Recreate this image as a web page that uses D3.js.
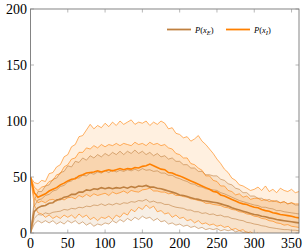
<!DOCTYPE html>
<html>
<head>
<meta charset="utf-8">
<script src="https://cdn.jsdelivr.net/npm/d3@7"></script>
<style>
  html, body { margin: 0; padding: 0; background: #fff; }
  svg { display: block; }
</style>
</head>
<body>
<div id="chart"></div>
<script>
// sample positions (time steps)
const steps = [0,5,10,15,20,25,30,35,40,45,50,55,60,65,70,75,80,85,90,95,100,105,110,115,120,125,130,135,140,145,150,155,160,165,170,175,180,185,190,195,200,205,210,215,220,225,230,235,240,245,250,255,260,265,270,275,280,285,290,295,300,305,310,315,320,325,330,335,340,345,350,355,360];

// P(x_I): mean and the two bands around it
const iMean = [50,36,32,33.5,35,37.5,39,40.5,43,44.5, 46.5,48,48.5,51,52,53.5,54,54.5,55.5,54.5, 55.5,56.5,55.5,56.5,57.5,56.5,57.5,57,58.5,58, 59.5,60,61.5,60,58.5,57,56.5,54,53.5,52, 51,49.5,48,46.5,45,43.5,42,40.5,39,37, 36.5,34,33,31.5,30,28.5,27,26,25.5,24, 23,22.5,21,20,19.5,18,17.5,16.5,16,15.5, 15,14,13.5];
const iHi2 = [50,45,44,47,46,53,54,59,61,68, 70,77,79,86,87,92,97,93,96,94, 98,95,99,96,100,97,99,101,97,99, 98,100,96,99,97,100,98,93,94,89, 88,85,86,82,84,87,82,79,75,71, 66,62,57,54,49,47,43,42,40,38, 39,41,38,42,37,39,36,40,38,37, 39,36,37];
const iHi1 = [50,41,38,41,42,46,47,52,53,59, 61,66,67,72,72,76,75,78,76,79, 77,79,78,80,78,80,79,78,81,79, 80,78,81,79,80,78,79,76,75,71, 70,67,67,62,61,58,56,51,51,47, 46,42,42,38,37,34,35,32,33,30, 31,31,29,30,28,29,28,27,28,26, 27,26,26];
const iLo1 = [50,31,27,28.5,27,29.5,30,28.5,31,29.5, 31.5,32,30.5,33.5,32,34.5,32.5,35,33.5,34.5, 35.5,33.5,36.5,35,36,37.5,35.5,38,37,36.5, 38.5,39,40,37.5,37.5,36.5,36.5,35,35.5,33.5, 33.5,32.5,32,30.5,30,29,28.5,26.5,26.5,25.5, 25,24.5,23,22.5,21,20.5,19,18.5,17,16.5, 15,14.5,13,12.5,11,10.5,9,8.5,7,7.5, 6,5.5,5];
const iLo2 = [50,25,18,17,14,16,13,15,13,16, 14,16,13,17,14,16,12,14,11,14, 13,15,12,16,14,18,16,21,19,23, 21,25,22,24,19,20,17,18,14,16, 13,14,11,12,9,11,8,9,7,8, 6,7,5,6,3,4,2,3,0,1, -1,0,-3,-2,-4,-3,-5,-4,-6,-6, -7,-7,-8];

// P(x_E): mean and the two bands around it
const eMean = [0,19,22.5,24,24.5,26.5,27,29.5,30,32, 32.5,34.5,34.5,36.5,36.5,38.5,38,39.5,39,40.5, 39.5,40.5,39.5,40.5,40,41,40,41.5,40.5,42, 41.5,42.5,41,41,40,39.5,38.5,37.5,36.5,35.5, 34,33.5,32.5,31.5,30.5,30,29,28.5,28,27.5, 27,26,25,24,22.5,21.5,20.5,19.5,18.5,17.5, 16.5,16,15,14.5,13.5,13,12,11.5,11,10.5, 10,9.5,9];
const eHi2 = [0,29,37,37,42,43,48,49,54,55, 60,59,64,63,67,65,69,67,70,68, 71,69,72,70,73,70,73,71,74,71, 73,70,72,69,71,68,69,66,67,64, 64,61,61,58,58,55,55,52,52,51, 51,48,47,44,43,40,39,36,36,33, 33,31,31,29,30,28,29,27,28,26, 27,25,25];
const eHi1 = [0,24,29.5,30.5,33.5,34.5,37.5,38.5,41.5,42.5, 45.5,46.5,49.5,49,51.5,51,53.5,52.5,54.5,53.5, 55.5,54,56,54.5,56,55,56.5,55.5,57,55.5, 57.5,56,56.5,55,55.5,53.5,53.5,51.5,51.5,49.5, 48.5,47,46,44,43.5,41.5,41,39.5,39,38.5, 38,36,35,33.5,32,30.5,29,28,27,26, 25,24.5,23,23,22,21.5,20,20,19,18.5, 18,17.5,17];
const eLo1 = [0,13,16.5,16,18,17,18.5,19,19.5,21, 20.5,22,21.5,23,22.5,24,23.5,25,24.5,26, 24.5,26,25,26.5,25.5,27,26.5,28,27.5,29, 28.5,30,27.5,28.5,27,27,25.5,25.5,24,23, 22.5,22,20.5,20.5,19,19,17.5,18,16.5,17, 15.5,16,14.5,14.5,13,12.5,11.5,11,9.5,9, 8,7.5,6.5,6,5,4.5,4,3.5,3,3, 2.5,2.5,2];
const eLo2 = [0,8,11,9,11,9,11,8,10,8, 11,9,11,8,10,7,9,6,8,7, 9,8,11,9,12,10,13,11,14,12, 15,13,14,11,13,10,11,8,9,7, 8,6,7,5,6,4,5,3,4,3, 4,2,3,2,3,1,2,0.5,1,-0.5, -1,-2,-1.5,-3,-2.5,-4,-3.5,-5,-4.5,-5.5, -5.5,-6,-6.5];

const xTicks = [0, 50, 100, 150, 200, 250, 300, 350];
const yTicks = [0, 50, 100, 150, 200];

const orange = "#ff8000";
const brown = "#bf8040";

const width = 304, height = 252;
const m = {left: 30.5, right: 299, top: 9, bottom: 233};

const x = d3.scaleLinear().domain([0, 360]).range([m.left, m.right]);
const y = d3.scaleLinear().domain([0, 200]).range([m.bottom, m.top]);

const svg = d3.select("#chart")
    .append("svg")
    .attr("width", width)
    .attr("height", height)
    .attr("viewBox", [0, 0, width, height]);

svg.append("clipPath")
    .attr("id", "plot-clip")
    .append("rect")
    .attr("x", m.left)
    .attr("y", m.top)
    .attr("width", m.right - m.left)
    .attr("height", m.bottom - m.top);

const plot = svg.append("g").attr("clip-path", "url(#plot-clip)");

const band = (lo, hi) => d3.area()
    .x((d, i) => x(steps[i]))
    .y0((d, i) => y(lo[i]))
    .y1((d, i) => y(hi[i]))(steps);

const line = vals => d3.line()
    .x((d, i) => x(steps[i]))
    .y(d => y(d))(vals);

// fills: E band first, I bands on top
plot.append("path").attr("d", band(eLo2, eHi2)).attr("fill", brown).attr("fill-opacity", 0.13);
plot.append("path").attr("d", band(iLo2, iHi2)).attr("fill", orange).attr("fill-opacity", 0.12);
plot.append("path").attr("d", band(iLo1, iHi1)).attr("fill", orange).attr("fill-opacity", 0.13);

// thin band edges
[eHi2, eHi1, eLo1, eLo2].forEach(vals => {
    plot.append("path")
        .attr("d", line(vals))
        .attr("fill", "none")
        .attr("stroke", brown)
        .attr("stroke-width", 0.6);
});
[iHi2, iHi1, iLo1, iLo2].forEach(vals => {
    plot.append("path")
        .attr("d", line(vals))
        .attr("fill", "none")
        .attr("stroke", orange)
        .attr("stroke-width", 0.6);
});

// means
plot.append("path").attr("d", line(eMean)).attr("fill", "none").attr("stroke", brown).attr("stroke-width", 1.6);
plot.append("path").attr("d", line(iMean)).attr("fill", "none").attr("stroke", orange).attr("stroke-width", 1.6);

// frame and inward ticks on all sides
svg.append("rect")
    .attr("x", m.left).attr("y", m.top)
    .attr("width", m.right - m.left).attr("height", m.bottom - m.top)
    .attr("fill", "none").attr("stroke", "#666").attr("stroke-width", 0.8);

const tickLen = 3.5;
const ticks = svg.append("g").attr("stroke", "#888").attr("stroke-width", 0.6);
xTicks.forEach(t => {
    ticks.append("line").attr("x1", x(t)).attr("x2", x(t)).attr("y1", m.bottom).attr("y2", m.bottom - tickLen);
    ticks.append("line").attr("x1", x(t)).attr("x2", x(t)).attr("y1", m.top).attr("y2", m.top + tickLen);
});
yTicks.forEach(t => {
    ticks.append("line").attr("x1", m.left).attr("x2", m.left + tickLen).attr("y1", y(t)).attr("y2", y(t));
    ticks.append("line").attr("x1", m.right).attr("x2", m.right - tickLen).attr("y1", y(t)).attr("y2", y(t));
});

const serif = "Liberation Serif, DejaVu Serif, serif";

svg.append("g")
    .selectAll("text")
    .data(xTicks)
    .join("text")
    .attr("x", d => x(d))
    .attr("y", 248)
    .attr("text-anchor", "middle")
    .attr("font-family", serif)
    .attr("font-size", 14)
    .text(d => d);

svg.append("g")
    .selectAll("text")
    .data(yTicks)
    .join("text")
    .attr("x", 27)
    .attr("y", d => y(d))
    .attr("dy", "0.35em")
    .attr("text-anchor", "end")
    .attr("font-family", serif)
    .attr("font-size", 14)
    .text(d => d);

// legend, top right, no box
const legend = [
    {color: brown, sub: "E", x0: 167},
    {color: orange, sub: "I", x0: 226}
];
const lg = svg.append("g");
legend.forEach(l => {
    lg.append("line")
        .attr("x1", l.x0).attr("x2", l.x0 + 24)
        .attr("y1", 29.5).attr("y2", 29.5)
        .attr("stroke", l.color).attr("stroke-width", 1.8);
    const t = lg.append("text")
        .attr("x", l.x0 + 28)
        .attr("y", 32.5)
        .attr("font-family", serif)
        .attr("font-size", 8.5);
    t.append("tspan").attr("font-style", "italic").text("P");
    t.append("tspan").text("(");
    t.append("tspan").attr("font-style", "italic").text("x");
    t.append("tspan").attr("font-style", "italic").attr("font-size", 6.5).attr("dy", 2).text(l.sub);
    t.append("tspan").attr("dy", -2).text(")");
});
</script>
</body>
</html>
